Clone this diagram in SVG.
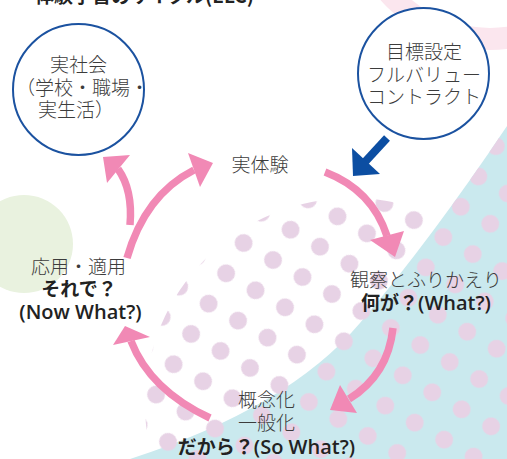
<svg xmlns="http://www.w3.org/2000/svg" width="507" height="459" viewBox="0 0 507 459">
<style>
text{font-family:"Noto Sans CJK JP","Noto Sans",sans-serif;font-size:19px;font-weight:300;fill:#3c3c3c;text-anchor:middle}
.b{font-weight:700;fill:#222}
.lat{font-family:"Open Sans","Noto Sans",sans-serif;font-weight:600;font-size:20px}
.node{fill:#fff;stroke:#1b52a0;stroke-width:2}
.arr{fill:none;stroke:#f189b5;stroke-width:7.5}
.head{fill:#f189b5}
</style>
<defs>
<pattern id="dots" patternUnits="userSpaceOnUse" x="-17" y="-17.5" width="34" height="35" patternTransform="translate(320,246.7) rotate(30)">
<circle cx="17" cy="17.5" r="9" fill="#e7d2e5"/>
</pattern>
<clipPath id="dotclip">
<circle cx="352" cy="405" r="207"/>
<path d="M507,126 Q432,238 360,323 Q288,408 130,459 L507,459 Z"/>
</clipPath>
</defs>
<g id="background">
<rect width="507" height="459" fill="#fff"/>
<circle cx="490" cy="-95" r="134" fill="none" stroke="#fbe6ee" stroke-width="22"/>
<circle cx="24" cy="244" r="49" fill="#e9f2df"/>
<path d="M507,126 Q432,238 360,323 Q288,408 130,459 L507,459 Z" fill="#cae9ee"/>
<rect width="507" height="459" fill="url(#dots)" clip-path="url(#dotclip)"/>
</g>
<text x="35" y="2.5" class="b" style="text-anchor:start;font-size:19px">体験学習のサイクル(ELC)</text>
<g id="connectors">
<path class="arr" d="M325,172 Q372,190 387,236"/>
<polygon class="head" points="370,240 404,231 395,257"/>
<path class="arr" d="M393,328 Q388,375 349,399"/>
<polygon class="head" points="340,385 357,413 330,410"/>
<path class="arr" d="M210,418 Q150,390 131,341"/>
<polygon class="head" points="150,337 113,345 125,326"/>
<path class="arr" d="M127,258 Q145,195 194,170"/>
<polygon class="head" points="188,153 200,187 213,163"/>
<path class="arr" d="M130,225 Q133,190 118,169"/>
<polygon class="head" points="130,155 107,183 103,157"/>
<line x1="387" y1="138" x2="364" y2="163" stroke="#0c4ea2" stroke-width="8"/>
<polygon points="352,148 380,174 353,176" fill="#0c4ea2"/>
</g>
<g id="node-society">
<circle class="node" cx="78.5" cy="89.5" r="65.5"/>
<text x="78.5" y="71.5">実社会</text>
<text x="82.5" y="94.5">（学校・職場・</text>
<text x="76" y="116.5">実生活）</text>
</g>
<g id="node-goal">
<circle class="node" cx="423.5" cy="73.5" r="65.5"/>
<text x="424" y="58.5">目標設定</text>
<text x="424" y="81.5">フルバリュー</text>
<text x="424" y="103.5">コントラクト</text>
</g>
<g id="node-experience">
<text x="260" y="171.5">実体験</text>
</g>
<g id="node-observe">
<text x="426" y="286.5">観察とふりかえり</text>
<text x="426" y="309.5" class="b">何が？<tspan class="lat">(What?)</tspan></text>
</g>
<g id="node-concept">
<text x="266.5" y="406.5">概念化</text>
<text x="266.5" y="429.5">一般化</text>
<text x="266.5" y="453.5" class="b">だから？<tspan class="lat">(So What?)</tspan></text>
</g>
<g id="node-apply">
<text x="78.5" y="273.5">応用・適用</text>
<text x="79" y="295.5" class="b">それで？</text>
<text x="80.5" y="319" class="b"><tspan class="lat">(Now What?)</tspan></text>
</g>
</svg>
